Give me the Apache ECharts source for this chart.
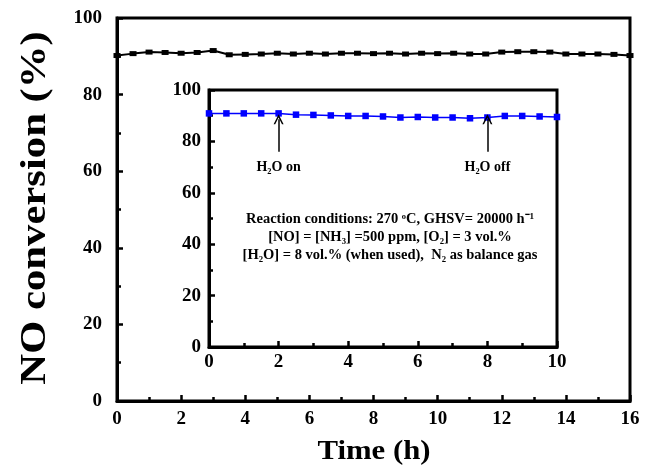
<!DOCTYPE html>
<html><head><meta charset="utf-8">
<script src="https://cdn.jsdelivr.net/npm/echarts@6/dist/echarts.min.js"></script>
<style>html,body{margin:0;padding:0;background:#fff}#c{width:645px;height:467px}</style>
</head><body><div id="c"></div>
<script>
// Main plot data (0–16 h, every 0.5 h)
const mainTime = [0,0.5,1,1.5,2,2.5,3,3.5,4,4.5,5,5.5,6,6.5,7,7.5,8,8.5,9,9.5,10,10.5,11,11.5,12,12.5,13,13.5,14,14.5,15,15.5,16];
const mainConv = [90.2,90.7,91.1,91.0,90.8,91.0,91.5,90.4,90.5,90.6,90.8,90.6,90.8,90.6,90.8,90.8,90.7,90.8,90.6,90.8,90.7,90.8,90.6,90.6,91.1,91.2,91.2,91.1,90.6,90.6,90.6,90.5,90.2];
// Inset data (0–10 h, every 0.5 h)
const insetTime = [0,0.5,1,1.5,2,2.5,3,3.5,4,4.5,5,5.5,6,6.5,7,7.5,8,8.5,9,9.5,10];
const insetConv = [90.9,90.9,90.9,90.9,90.9,90.4,90.3,90.1,89.9,89.9,89.7,89.3,89.5,89.3,89.3,89.0,89.3,89.9,89.9,89.7,89.5];
const mainXTicks = [0,2,4,6,8,10,12,14,16];
const mainYTicks = [0,20,40,60,80,100];
const insetXTicks = [0,2,4,6,8,10];
const insetYTicks = [0,20,40,60,80,100];
const arrowMarks = [{x:2, from:76, to:88.6, label:'H\u2082O on'},{x:8, from:76, to:88.6, label:'H\u2082O off'}];
const conditionLines = ['Reaction conditions: 270 \u1d52C, GHSV= 20000 h\u207b\u00b9','[NO] = [NH\u2083] =500 ppm, [O\u2082] = 3 vol.%','[H\u2082O] = 8 vol.% (when used),  N\u2082 as balance gas'];
const yTitle = 'NO conversion (%)';
const xTitle = 'Time (h)';

const FONT = '"Liberation Serif","Times New Roman",serif';
function axisCommon(fs, margin){
  return {
    axisLine:{show:true,onZero:false,lineStyle:{color:'#000',width:3}},
    axisTick:{show:true,inside:true,length:6,lineStyle:{color:'#000',width:2.5}},
    minorTick:{show:true,splitNumber:2,length:4,lineStyle:{color:'#000',width:2.5}},
    splitLine:{show:false},
    axisLabel:{color:'#000',fontFamily:FONT,fontWeight:'bold',fontSize:fs,margin:margin}
  };
}
const chevron = 'path://M0,10 L5,0 L10,10 L8.4,10 L5,3.2 L1.6,10 Z';
const chart = echarts.init(document.getElementById('c'),null,{renderer:'canvas'});
const option = {
  backgroundColor:'#fff',
  animation:false,
  title:{
    text: conditionLines.join('\n'),
    left: 385, top: 205, textAlign:'center',
    textStyle:{fontFamily:FONT,fontWeight:'bold',fontSize:14.5,color:'#000',lineHeight:18,align:'center'}
  },
  graphic:[
    {type:'text',x:36,y:208,rotation:Math.PI/2,scaleX:1.22,scaleY:1,
      style:{text:yTitle,fontFamily:FONT,fontWeight:'bold',fontSize:35,fill:'#000',align:'center',verticalAlign:'middle'}},
    {type:'text',x:374,y:452,scaleX:1.1,
      style:{text:xTitle,fontFamily:FONT,fontWeight:'bold',fontSize:28,fill:'#000',align:'center',verticalAlign:'middle'}}
  ],
  grid:[
    {left:117,right:15,top:18,bottom:66,show:true,borderColor:'#000',borderWidth:3},
    {left:209,right:88,top:90,bottom:120,show:true,borderColor:'#000',borderWidth:3}
  ],
  xAxis:[
    Object.assign(axisCommon(19,9),{gridIndex:0,type:'value',min:0,max:16,interval:2}),
    Object.assign(axisCommon(19,6),{gridIndex:1,type:'value',min:0,max:10,interval:2})
  ],
  yAxis:[
    Object.assign(axisCommon(19,15),{gridIndex:0,type:'value',min:0,max:100,interval:20}),
    Object.assign(axisCommon(19,8),{gridIndex:1,type:'value',min:0,max:100,interval:20})
  ],
  series:[
    {type:'line',xAxisIndex:0,yAxisIndex:0,data:mainTime.map((t,i)=>[t,mainConv[i]]),
      symbol:'rect',symbolSize:[7,5],lineStyle:{color:'#000',width:2},itemStyle:{color:'#000'}},
    {type:'line',xAxisIndex:1,yAxisIndex:1,data:insetTime.map((t,i)=>[t,insetConv[i]]),
      symbol:'rect',symbolSize:6.5,lineStyle:{color:'#0000ff',width:1.5},itemStyle:{color:'#0000ff'},
      markLine:{silent:true,symbol:['none',chevron],symbolSize:[10,10],symbolOffset:[0,0],
        lineStyle:{color:'#000',width:1.5,type:'solid'},
        label:{show:false},
        data:arrowMarks.map(a=>[{coord:[a.x,a.from]},{coord:[a.x,a.to]}])},
      markPoint:{symbol:'rect',symbolSize:1,itemStyle:{color:'transparent'},
        label:{show:true,color:'#000',fontFamily:FONT,fontWeight:'bold',fontSize:14,position:'inside'},
        data:arrowMarks.map(a=>({coord:[a.x,70],value:a.label,label:{formatter:a.label}}))}
    }
  ]
};
chart.setOption(option);
</script></body></html>
